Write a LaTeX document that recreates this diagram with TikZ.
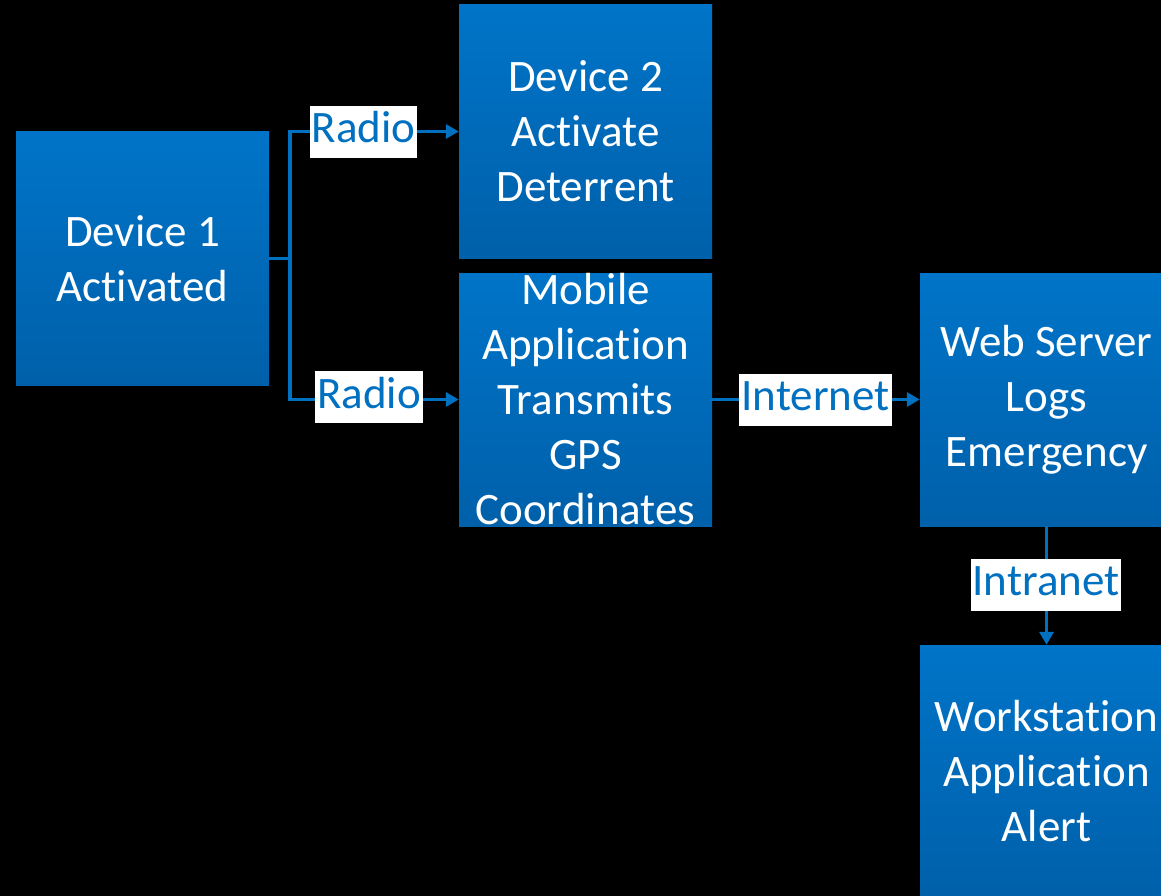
\documentclass[tikz,border=0pt]{standalone}
\usepackage{fontspec}
\setmainfont{Carlito}
\usetikzlibrary{arrows.meta}
\definecolor{boxtop}{RGB}{0,116,200}
\definecolor{boxbot}{RGB}{0,96,170}
\definecolor{linkblue}{RGB}{0,112,192}
% keep "t" and "i" as separate glyphs
\newcommand{\tisep}{t\kern0pt i}
\tikzset{
  stage/.style={rectangle, minimum width=253pt, minimum height=253pt, inner sep=0pt,
    top color=boxtop, bottom color=boxbot, draw=none},
  stagetext/.style={text=white, align=center, font=\fontsize{45}{55}\selectfont, inner sep=0pt},
  link/.style={draw=linkblue, line width=3.5pt, -{Triangle[length=13pt,width=14pt]}},
  trunk/.style={draw=linkblue, line width=3.5pt},
  lbl/.style={fill=white, text=linkblue, font=\fontsize{45}{55}\selectfont,
    inner xsep=2pt, inner ysep=4pt, text height=33pt, text depth=11pt}
}
\begin{document}
\begin{tikzpicture}[x=1pt,y=-1pt]
  \useasboundingbox[fill=black] (0,0) rectangle (1161,896);
  \clip (0,0) rectangle (1161,896);

  % process boxes
  \node[stage] (d1)  at (142.5,258.5) {};
  \node[stage] (d2)  at (585.5,131.5) {};
  \node[stage] (mob) at (585.5,399.5) {};
  \node[stage] (web) at (1046.5,399.5) {};
  \node[stage] (ws)  at (1046.5,771.5) {};

  \node[stagetext] (t1) at (d1)  {Device 1\\Ac\tisep vated};
  \node[stagetext] (t2) at (d2)  {Device 2\\Ac\tisep vate\\Deterrent};
  \node[stagetext] (t3) at (mob) {Mobile\\Applica\tisep on\\Transmits\\GPS\\Coordinates};
  \node[stagetext] (t4) at (web) {Web Server\\Logs\\Emergency};
  \node[stagetext] (t5) at (ws)  {Worksta\tisep on\\Applica\tisep on\\Alert};

  % radio fork from device 1
  \coordinate (fork) at ([xshift=21pt]d1.east);
  \draw[trunk] (d1.east) -- (fork);
  \draw[link] (fork) |- (d2.west);
  \draw[link] (fork) |- (mob.west);
  \draw[link] (mob.east) -- (web.west);
  \draw[link] (web.south) -- (ws.north);

  % connector labels
  \node[lbl] (r1) at (363.5,132) {Radio};
  \node[lbl] (r2) at (369,397) {Radio};
  \node[lbl] (inet) at (815.5,399.5) {Internet};
  \node[lbl] (intra) at (1046,584.5) {Intranet};
\end{tikzpicture}
\end{document}
